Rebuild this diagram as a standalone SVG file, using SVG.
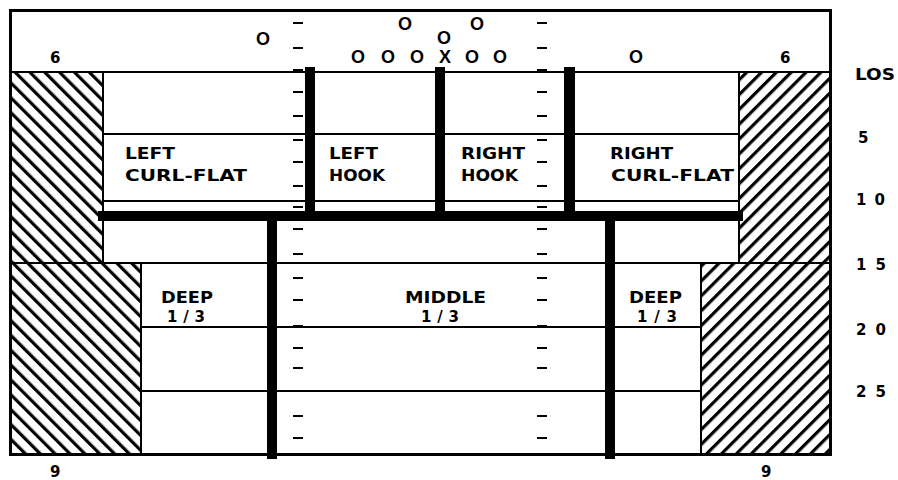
<svg xmlns="http://www.w3.org/2000/svg" width="898" height="480" viewBox="0 0 898 480">
<style>
.t{font-family:"DejaVu Sans","Liberation Sans",Arial,sans-serif;font-weight:bold;fill:#000}
.lab{font-size:15px}
.num{font-size:15px}
.pl{font-family:"Liberation Sans",Arial,sans-serif;font-size:18px;text-anchor:middle}
.thin{stroke:#000;stroke-width:2;fill:none}
.bar{fill:#000}
.tick{stroke:#000;stroke-width:2}
</style>
<defs>
<pattern id="hl" patternUnits="userSpaceOnUse" width="10.5" height="10.5" patternTransform="rotate(-45)">
<rect width="10.5" height="10.5" fill="#fff"/>
<rect x="0" y="0" width="3.2" height="10.5" fill="#000"/>
</pattern>
<pattern id="hr" patternUnits="userSpaceOnUse" width="10.5" height="10.5" patternTransform="rotate(45)">
<rect width="10.5" height="10.5" fill="#fff"/>
<rect x="0" y="0" width="3.2" height="10.5" fill="#000"/>
</pattern>
</defs>
<rect width="898" height="480" fill="#fff"/>

<g id="field">
<rect x="10.5" y="10.5" width="820" height="444" fill="#fff" stroke="#000" stroke-width="3"/>
</g>

<g id="hatch">
<rect x="11" y="72" width="92" height="191" fill="url(#hl)" stroke="#000" stroke-width="2"/>
<rect x="11" y="263" width="130" height="191" fill="url(#hl)" stroke="#000" stroke-width="2"/>
<rect x="739" y="72" width="91" height="191" fill="url(#hr)" stroke="#000" stroke-width="2"/>
<rect x="701" y="263" width="129" height="191" fill="url(#hr)" stroke="#000" stroke-width="2"/>
</g>

<g id="lines">
<line class="thin" x1="10" y1="72" x2="831" y2="72"/>
<line class="thin" x1="103" y1="134" x2="739" y2="134"/>
<line class="thin" x1="103" y1="201" x2="739" y2="201"/>
<line class="thin" x1="10" y1="263" x2="831" y2="263"/>
<line class="thin" x1="141" y1="327" x2="701" y2="327"/>
<line class="thin" x1="141" y1="391" x2="701" y2="391"/>
</g>

<g id="ticks">
<path class="tick" d="M293 23h10M293 48h10M293 70h10M293 92h10M293 116h10M293 140h10M293 162h10M293 186h10M293 207h10M293 229h10M293 254h10M293 278h10M293 300h10M293 326h10M293 348h10M293 368h10M293 416h10M293 438h10"/>
<path class="tick" d="M537 23h10M537 48h10M537 70h10M537 92h10M537 116h10M537 140h10M537 162h10M537 186h10M537 207h10M537 229h10M537 254h10M537 278h10M537 300h10M537 326h10M537 348h10M537 368h10M537 416h10M537 438h10"/>
</g>

<g id="bars">
<rect class="bar" x="98" y="211" width="645" height="10"/>
<rect class="bar" x="305" y="67" width="10" height="150"/>
<rect class="bar" x="435" y="67" width="10" height="150"/>
<rect class="bar" x="564" y="67" width="11" height="150"/>
<rect class="bar" x="267" y="216" width="10" height="243"/>
<rect class="bar" x="605" y="216" width="10" height="243"/>
</g>

<g id="formation">
<text class="t pl" x="263" y="45">O</text>
<text class="t pl" x="405" y="30">O</text>
<text class="t pl" x="477" y="30">O</text>
<text class="t pl" x="444" y="44">O</text>
<text class="t pl" x="358" y="63">O</text>
<text class="t pl" x="388" y="63">O</text>
<text class="t pl" x="417" y="63">O</text>
<text class="t pl" x="445" y="63">X</text>
<text class="t pl" x="472" y="63">O</text>
<text class="t pl" x="500" y="63">O</text>
<text class="t pl" x="636" y="63">O</text>
</g>

<g id="zone-left-curl-flat">
<text class="t lab" x="125" y="159" textLength="50" lengthAdjust="spacingAndGlyphs">LEFT</text>
<text class="t lab" x="125" y="181" textLength="122" lengthAdjust="spacingAndGlyphs">CURL-FLAT</text>
</g>
<g id="zone-left-hook">
<text class="t lab" x="329" y="159" textLength="49" lengthAdjust="spacingAndGlyphs">LEFT</text>
<text class="t lab" x="329" y="181" textLength="56" lengthAdjust="spacingAndGlyphs">HOOK</text>
</g>
<g id="zone-right-hook">
<text class="t lab" x="461" y="159" textLength="64" lengthAdjust="spacingAndGlyphs">RIGHT</text>
<text class="t lab" x="461" y="181" textLength="57" lengthAdjust="spacingAndGlyphs">HOOK</text>
</g>
<g id="zone-right-curl-flat">
<text class="t lab" x="610" y="159" textLength="63" lengthAdjust="spacingAndGlyphs">RIGHT</text>
<text class="t lab" x="611" y="181" textLength="123" lengthAdjust="spacingAndGlyphs">CURL-FLAT</text>
</g>
<g id="zone-deep-left">
<text class="t lab" x="161" y="303" textLength="52" lengthAdjust="spacingAndGlyphs">DEEP</text>
<text class="t lab" x="167" y="322" textLength="38" lengthAdjust="spacing">1/3</text>
</g>
<g id="zone-middle">
<text class="t lab" x="405" y="303" textLength="81" lengthAdjust="spacingAndGlyphs">MIDDLE</text>
<text class="t lab" x="421" y="322" textLength="38" lengthAdjust="spacing">1/3</text>
</g>
<g id="zone-deep-right">
<text class="t lab" x="629" y="303" textLength="53" lengthAdjust="spacingAndGlyphs">DEEP</text>
<text class="t lab" x="637" y="322" textLength="40" lengthAdjust="spacing">1/3</text>
</g>

<g id="yard-markers">
<text class="t num" x="50" y="63">6</text>
<text class="t num" x="780" y="63">6</text>
<text class="t num" x="855" y="80" textLength="40" lengthAdjust="spacingAndGlyphs">LOS</text>
<text class="t num" x="858" y="143">5</text>
<text class="t num" x="856" y="205" textLength="29" lengthAdjust="spacing">10</text>
<text class="t num" x="856" y="270" textLength="30" lengthAdjust="spacing">15</text>
<text class="t num" x="856" y="335" textLength="30" lengthAdjust="spacing">20</text>
<text class="t num" x="856" y="397" textLength="30" lengthAdjust="spacing">25</text>
<text class="t num" x="50" y="477">9</text>
<text class="t num" x="761" y="477">9</text>
</g>
</svg>
